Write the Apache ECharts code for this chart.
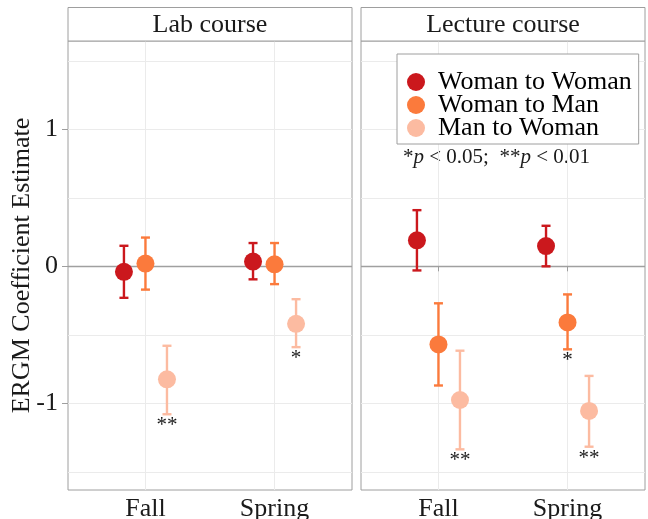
<!DOCTYPE html>
<html>
<head>
<meta charset="utf-8">
<script src="https://cdn.jsdelivr.net/npm/echarts@6/dist/echarts.min.js"></script>
<style>html,body{margin:0;padding:0;background:#fff}#c{width:648px;height:519px}</style>
</head>
<body>
<div id="c"></div>
<script>
// ---- data ----
const categories = ['Fall', 'Spring'];
const groups = ['Woman to Woman', 'Woman to Man', 'Man to Woman'];
const panels = ['Lab course', 'Lecture course'];
const colors = ['#CB181D', '#FB7A3C', '#FCBBA1'];

// per group (rows) x per season (cols)
const labEst  = [[-0.04, 0.035], [0.02, 0.015], [-0.825, -0.42]];
const labLow  = [[-0.23, -0.095], [-0.17, -0.13], [-1.08, -0.59]];
const labHigh = [[0.15, 0.17], [0.21, 0.17], [-0.58, -0.24]];
const labSig  = [['', ''], ['', ''], ['**', '*']];

const lecEst  = [[0.19, 0.148], [-0.57, -0.41], [-0.976, -1.056]];
const lecLow  = [[-0.03, 0.0], [-0.87, -0.606], [-1.336, -1.317]];
const lecHigh = [[0.41, 0.296], [-0.27, -0.205], [-0.616, -0.80]];
const lecSig  = [['', ''], ['', '*'], ['**', '**']];

const yTickValues = [-1, 0, 1];
const yGridValues = [-1.5, -1, -0.5, 0.5, 1, 1.5];
const yRange = [-1.633, 1.645];
const xRange = [0.4, 2.6];
const dodgeWidth = 0.5;

// ---- chart ----
const FONT = "'Liberation Serif', 'Times New Roman', serif";
const TXT = '#1A1A1A';
const BORDER = '#9E9E9E';
const panelData = [
  {est: labEst, low: labLow, high: labHigh, sig: labSig},
  {est: lecEst, low: lecLow, high: lecHigh, sig: lecSig}
];
const gridPos = [{left: 68, width: 284}, {left: 361, width: 284}];
const TOP = 41, HEIGHT = 449;

const grids = gridPos.map(g => ({left: g.left, top: TOP, width: g.width, height: HEIGHT,
  outerBoundsMode: 'none', containLabel: false,
  show: true, borderColor: BORDER, borderWidth: 1, backgroundColor: 'transparent'}));

const xAxes = gridPos.map((g, p) => ({
  type: 'value', gridIndex: p, min: xRange[0], max: xRange[1],
  axisLine: {show: false}, splitLine: {show: false},
  axisTick: {show: true, customValues: categories.map((c, i) => i + 1), length: 5, lineStyle: {color: BORDER}},
  axisLabel: {customValues: categories.map((c, i) => i + 1), formatter: v => categories[Math.round(v) - 1] || '',
    fontFamily: FONT, fontSize: 26, color: TXT, margin: 6}
}));

const yAxes = gridPos.map((g, p) => ({
  type: 'value', gridIndex: p, min: yRange[0], max: yRange[1],
  axisLine: {show: false}, splitLine: {show: false},
  axisTick: {show: p === 0, customValues: yTickValues, length: 6, lineStyle: {color: BORDER}},
  axisLabel: {show: p === 0, customValues: yTickValues, fontFamily: FONT, fontSize: 26, color: TXT, margin: 10,
    formatter: v => String(v)}
}));

const series = [];
panelData.forEach((d, p) => {
  // grid lines
  series.push({
    type: 'line', xAxisIndex: p, yAxisIndex: p, data: [], z: 0, silent: true,
    markLine: {
      silent: true, symbol: 'none', label: {show: false}, animation: false, z: 0,
      data: yGridValues.map(v => ({yAxis: v, lineStyle: {color: '#EBEBEB', width: 1, type: 'solid'}}))
        .concat(categories.map((c, i) => ({xAxis: i + 1, lineStyle: {color: '#EBEBEB', width: 1, type: 'solid'}})))
        .concat([{yAxis: 0, lineStyle: {color: '#A0A0A0', width: 1.3, type: 'solid'}}])
    }
  });
  groups.forEach((name, g) => {
    const off = (g - 1) * dodgeWidth / groups.length;
    const color = colors[g];
    series.push({
      type: 'custom', xAxisIndex: p, yAxisIndex: p, z: 2, silent: true,
      data: categories.map((c, i) => [i + 1 + off, d.low[g][i], d.high[g][i]]),
      renderItem: (params, api) => {
        const lo = api.coord([api.value(0), api.value(1)]);
        const hi = api.coord([api.value(0), api.value(2)]);
        const hw = 4.5;
        const st = {stroke: color, lineWidth: 2.4};
        return {type: 'group', children: [
          {type: 'line', shape: {x1: lo[0], y1: lo[1], x2: hi[0], y2: hi[1]}, style: st},
          {type: 'line', shape: {x1: lo[0] - hw, y1: lo[1], x2: lo[0] + hw, y2: lo[1]}, style: st},
          {type: 'line', shape: {x1: hi[0] - hw, y1: hi[1], x2: hi[0] + hw, y2: hi[1]}, style: st}
        ]};
      }
    });
    series.push({
      type: 'scatter', name: name, xAxisIndex: p, yAxisIndex: p, z: 3,
      symbol: 'circle', symbolSize: 18, itemStyle: {color: color, opacity: 1},
      data: categories.map((c, i) => [i + 1 + off, d.est[g][i]])
    });
    const sigData = categories.map((c, i) => [i + 1 + off, d.low[g][i], d.sig[g][i]]).filter(r => r[2]);
    if (sigData.length) {
      series.push({
        type: 'custom', xAxisIndex: p, yAxisIndex: p, z: 4, silent: true,
        data: sigData,
        renderItem: (params, api) => {
          const pt = api.coord([api.value(0), api.value(1)]);
          return {type: 'text', x: pt[0], y: pt[1] + 1,
            style: {text: sigData[params.dataIndex][2], font: '21px ' + FONT, fill: TXT,
              textAlign: 'center', textVerticalAlign: 'top'}};
        }
      });
    }
  });
});

const graphics = [];
panels.forEach((t, p) => {
  graphics.push({type: 'rect', shape: {x: gridPos[p].left, y: 7.5, width: gridPos[p].width, height: 33.5},
    style: {fill: '#fff', stroke: BORDER, lineWidth: 1}, z: 10});
  graphics.push({type: 'text', x: gridPos[p].left + gridPos[p].width / 2, y: 25,
    style: {text: t, font: '26px ' + FONT, fill: TXT, textAlign: 'center', textVerticalAlign: 'middle'}, z: 11});
});
graphics.push({type: 'text', x: 22, y: TOP + HEIGHT / 2, rotation: Math.PI / 2,
  style: {text: 'ERGM Coefficient Estimate', font: '26px ' + FONT, fill: TXT, textAlign: 'center', textVerticalAlign: 'middle'}});
graphics.push({type: 'text', x: 403, y: 157,
  style: {text: '*{i|p} < 0.05;  **{i|p} < 0.01', font: '21px ' + FONT, fill: TXT, textVerticalAlign: 'middle',
    rich: {i: {fontStyle: 'italic', fontFamily: FONT, fontSize: 21, fill: TXT}}}});

const chart = echarts.init(document.getElementById('c'), null, {renderer: 'canvas'});
chart.setOption({
  animation: false,
  backgroundColor: '#fff',
  grid: grids,
  xAxis: xAxes,
  yAxis: yAxes,
  legend: {
    data: groups, orient: 'vertical', left: 397, top: 54,
    icon: 'circle', itemWidth: 18, itemHeight: 18, itemGap: -3,
    backgroundColor: '#fff', borderColor: BORDER, borderWidth: 1, padding: [15, 7, 3, 10],
    textStyle: {fontFamily: FONT, fontSize: 26, color: '#000', lineHeight: 23, padding: [0, 0, 0, 8]},
    selectedMode: false
  },
  graphic: graphics,
  series: series
});
</script>
</body>
</html>
